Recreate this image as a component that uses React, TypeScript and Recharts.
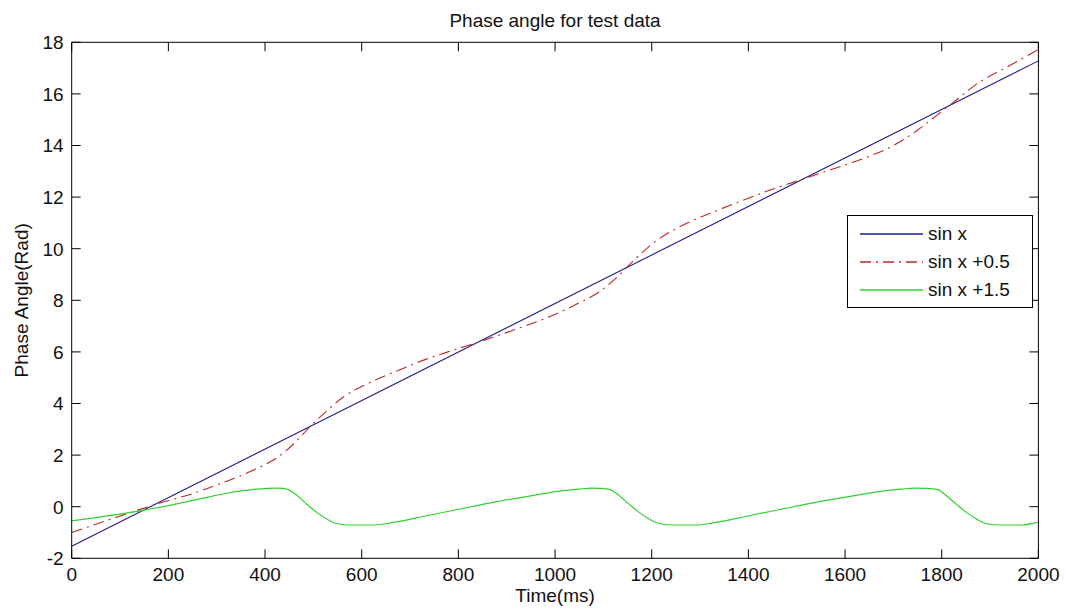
import React from 'react';
import { LineChart, Line, XAxis, YAxis, ReferenceLine } from 'recharts';

const W = 1066;
const H = 616;
const FONT = '"Liberation Sans", Arial, Helvetica, sans-serif';
const FS = 19;

// layout
const MARGIN_TOP = 42.3;
const MARGIN_RIGHT = 27.6;
const XAXIS_H = 57.7;
const YAXIS_W = 71.7;
const PLOT_W = W - MARGIN_RIGHT - YAXIS_W;
const PLOT_H = H - MARGIN_TOP - XAXIS_H;
const TICK_LEN = 9;

const xTicks = [0, 200, 400, 600, 800, 1000, 1200, 1400, 1600, 1800, 2000];
const yTicks = [-2, 0, 2, 4, 6, 8, 10, 12, 14, 16, 18];

const titleText = 'Phase angle for test data';
const xLabelText = 'Time(ms)';
const yLabelText = 'Phase Angle(Rad)';

const seriesNames = ['sin x', 'sin x +0.5', 'sin x +1.5'];

const blueTime = [0, 2000];
const blueAngle = [-1.53, 17.28];

const redTime = [0, 86, 134, 183, 252, 314, 376, 431, 459, 493, 528, 562, 610, 666, 734, 790, 845, 907, 976, 1038, 1093, 1135, 1162, 1210, 1265, 1334, 1396, 1451, 1513, 1575, 1644, 1699, 1748, 1789, 1824, 1872, 1934, 2000];
const redAngle = [-1.0, -0.45, -0.15, 0.14, 0.52, 0.94, 1.42, 1.98, 2.43, 3.1, 3.72, 4.25, 4.75, 5.21, 5.72, 6.07, 6.4, 6.8, 7.27, 7.79, 8.35, 9.02, 9.53, 10.31, 10.92, 11.47, 11.93, 12.31, 12.7, 13.09, 13.54, 13.99, 14.57, 15.16, 15.67, 16.38, 17.03, 17.72];

const greenTime = [0, 50, 100, 162, 200, 265, 321, 376, 405, 428, 447, 462, 486, 507, 528, 548, 576, 624, 666, 734, 803, 872, 941, 1010, 1050, 1075, 1097, 1114, 1129, 1153, 1174, 1195, 1215, 1243, 1291, 1333, 1401, 1470, 1539, 1608, 1677, 1717, 1742, 1770, 1792, 1806, 1830, 1851, 1872, 1892, 1920, 1965, 2000];
const greenAngle = [-0.55, -0.42, -0.29, -0.09, 0.04, 0.3, 0.52, 0.67, 0.71, 0.72, 0.67, 0.5, 0.1, -0.22, -0.48, -0.65, -0.71, -0.71, -0.61, -0.35, -0.09, 0.17, 0.39, 0.6, 0.68, 0.72, 0.71, 0.66, 0.48, 0.1, -0.22, -0.48, -0.65, -0.71, -0.71, -0.61, -0.35, -0.09, 0.17, 0.39, 0.6, 0.68, 0.72, 0.71, 0.66, 0.48, 0.1, -0.22, -0.48, -0.65, -0.71, -0.71, -0.6];

const toRows = (ts: number[], vs: number[]) => ts.map((t, i) => ({ t, v: vs[i] }));

const series = [
  { name: seriesNames[0], color: '#1c1c8a', dash: undefined as string | undefined, width: 1.1, data: toRows(blueTime, blueAngle) },
  { name: seriesNames[1], color: '#c02626', dash: '11 5 2 5', width: 1.1, data: toRows(redTime, redAngle) },
  { name: seriesNames[2], color: '#2ed12e', dash: undefined as string | undefined, width: 1.2, data: toRows(greenTime, greenAngle) },
];

const XTick = (props: any) => {
  const { x, y, payload } = props;
  return (
    <g>
      <line x1={x} x2={x} y1={y} y2={y - TICK_LEN} stroke="#000" strokeWidth={1} />
      <line x1={x} x2={x} y1={y - PLOT_H} y2={y - PLOT_H + TICK_LEN} stroke="#000" strokeWidth={1} />
      <text x={x} y={y + 22.5} textAnchor="middle" fill="#111" fontSize={FS} fontFamily={FONT}>
        {payload.value}
      </text>
    </g>
  );
};

const YTick = (props: any) => {
  const { x, y, payload } = props;
  return (
    <g>
      <line x1={x} x2={x + TICK_LEN} y1={y} y2={y} stroke="#000" strokeWidth={1} />
      <line x1={x + PLOT_W} x2={x + PLOT_W - TICK_LEN} y1={y} y2={y} stroke="#000" strokeWidth={1} />
      <text x={x - 8} y={y} dy="0.36em" textAnchor="end" fill="#111" fontSize={FS} fontFamily={FONT}>
        {payload.value}
      </text>
    </g>
  );
};

const YTitle = (props: any) => {
  const vb = props && props.viewBox ? props.viewBox : { x: 0, y: MARGIN_TOP, width: YAXIS_W, height: PLOT_H };
  const cx = vb.x + 28.5;
  const cy = vb.y + vb.height / 2;
  return (
    <text
      x={cx}
      y={cy}
      transform={`rotate(-90 ${cx} ${cy})`}
      textAnchor="middle"
      fill="#111"
      fontSize={FS}
      fontFamily={FONT}
    >
      {yLabelText}
    </text>
  );
};

export default function App() {
  return (
    <div style={{ position: 'absolute', left: 0, top: 0, width: W, height: H, background: '#fff' }}>
      <div
        style={{
          position: 'absolute',
          left: YAXIS_W,
          width: PLOT_W,
          top: 10.5,
          textAlign: 'center',
          fontFamily: FONT,
          fontSize: FS,
          lineHeight: `${FS}px`,
          color: '#111',
          whiteSpace: 'pre',
        }}
      >
        {titleText}
      </div>
      <LineChart
        width={W}
        height={H}
        margin={{ top: MARGIN_TOP, right: MARGIN_RIGHT, bottom: 0, left: 0 }}
        style={{ position: 'absolute', left: 0, top: 0 }}
      >
        <XAxis
          xAxisId="b"
          dataKey="t"
          type="number"
          domain={[0, 2000]}
          ticks={xTicks}
          allowDataOverflow
          orientation="bottom"
          height={XAXIS_H}
          tickSize={0}
          tickMargin={0}
          tickLine={false}
          stroke="#000"
          tick={<XTick />}
          interval={0}
          label={{ value: xLabelText, position: 'insideBottom', offset: 14, fill: '#111', fontSize: FS, fontFamily: FONT }}
        />
        <YAxis
          yAxisId="l"
          type="number"
          domain={[-2, 18]}
          ticks={yTicks}
          allowDataOverflow
          width={YAXIS_W}
          tickSize={0}
          tickMargin={0}
          tickLine={false}
          stroke="#000"
          tick={<YTick />}
          interval={0}
          label={<YTitle />}
        />
        <ReferenceLine xAxisId="b" yAxisId="l" y={18} stroke="#000" strokeWidth={1} ifOverflow="visible" />
        <ReferenceLine xAxisId="b" yAxisId="l" x={2000} stroke="#000" strokeWidth={1} ifOverflow="visible" />
        {series.map((s) => (
          <Line
            key={s.name}
            name={s.name}
            xAxisId="b"
            yAxisId="l"
            data={s.data}
            dataKey="v"
            type="monotone"
            stroke={s.color}
            strokeWidth={s.width}
            strokeDasharray={s.dash}
            dot={false}
            activeDot={false}
            isAnimationActive={false}
          />
        ))}
      </LineChart>
      <div
        style={{
          position: 'absolute',
          left: 847,
          top: 215,
          width: 184,
          height: 91,
          border: '1px solid #000',
          background: '#fff',
          fontFamily: FONT,
          fontSize: FS,
          color: '#111',
        }}
      >
        {series.map((s, i) => (
          <div
            key={s.name}
            style={{ position: 'absolute', left: 0, top: 4 + i * 28, height: 28, display: 'flex', alignItems: 'center' }}
          >
            <svg width={80} height={28} style={{ display: 'block' }}>
              <line x1={12} x2={75} y1={14} y2={14} stroke={s.color} strokeWidth={s.width + 0.2} strokeDasharray={s.dash} />
            </svg>
            <span style={{ whiteSpace: 'pre', lineHeight: '28px' }}>{s.name}</span>
          </div>
        ))}
      </div>
    </div>
  );
}
